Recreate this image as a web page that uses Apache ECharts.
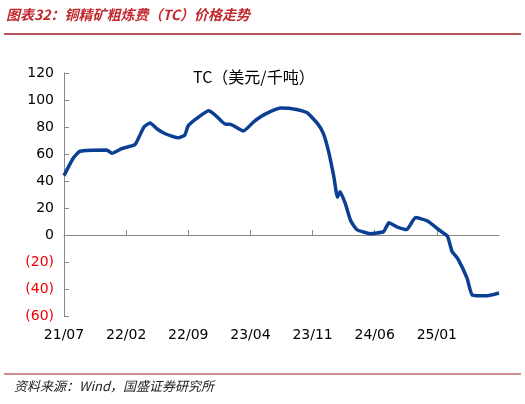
<!DOCTYPE html><html><head><meta charset="utf-8"><script src="https://cdn.jsdelivr.net/npm/echarts@6/dist/echarts.min.js"></script></head><body style="margin:0"><div id="c" style="width:525px;height:404px"></div><script>
const tickLabels=['21/07','22/02','22/09','23/04','23/11','24/06','25/01','25/08'];
const months=[0,1.05,1.8,4.8,5.4,6.5,8,9,9.7,10.5,11.4,12.9,13.6,14,15.3,16.3,17,18.2,18.7,20.2,21.4,22.5,24.4,26.2,27.4,28.5,29.2,29.8,30.4,30.8,31.1,31.7,32.3,33,34.5,36,36.6,37.5,38.6,39.6,40.9,42.4,43.2,43.7,44.4,45.4,46,47.7,49];
const tc=[44,57,62,63,60.5,64,67,80,83,78.5,75,72,74,81,88,92,89,82,82,77,84,89,94,93,90.5,83,75.5,62,43,28,32,23,10.5,4,1,2.5,9,6,4,13,10.5,3,-1,-12,-18,-32,-44.5,-45,-43];
const c=echarts.init(document.getElementById('c'));
const ff='"Noto Sans CJK SC","DejaVu Sans",sans-serif';
c.setOption({animation:false,
grid:{left:64,right:26,top:73,bottom:88},
title:{text:'TC（美元/千吨）',left:188,top:64,textStyle:{fontSize:16,fontWeight:'normal',color:'#000',fontFamily:ff}},
graphic:[
{type:'text',left:6,top:8,style:{text:'图表32：铜精矿粗炼费（TC）价格走势',fill:'#c0282d',font:'italic bold 14px '+ff}},
{type:'line',shape:{x1:4,y1:34,x2:521,y2:34},style:{stroke:'#9e1b20',lineWidth:1.5}},
{type:'line',shape:{x1:4,y1:374,x2:521,y2:374},style:{stroke:'#9e1b20',lineWidth:1}},
{type:'text',left:14,top:380,style:{text:'资料来源：Wind，国盛证券研究所',fill:'#222',font:'italic 13px '+ff}}
],
xAxis:{type:'value',min:0,max:49,interval:7,position:'bottom',
 axisLine:{onZero:true,lineStyle:{color:'#888'}},axisTick:{inside:true,length:5,lineStyle:{color:'#888'}},splitLine:{show:false},
 axisLabel:{fontSize:14,color:'#000',fontFamily:'Verdana,"DejaVu Sans",sans-serif',margin:12,formatter:v=>tickLabels[Math.round(v/7)]||'',showMaxLabel:false}},
yAxis:{type:'value',min:-60,max:120,interval:20,
 axisLine:{show:true,lineStyle:{color:'#888'}},axisTick:{show:true,inside:true,length:5,lineStyle:{color:'#888'}},splitLine:{show:false},
 axisLabel:{fontSize:14,fontFamily:'Verdana,"DejaVu Sans",sans-serif',margin:10,formatter:v=>v<0?'('+(-v)+')':String(v),color:v=>v<0?'#e00':'#000'}},
series:[{type:'line',data:months.map((m,i)=>[m,tc[i]]),showSymbol:false,smooth:0.15,lineStyle:{color:'#0b3f94',width:3.5}}]
});
</script></body></html>
